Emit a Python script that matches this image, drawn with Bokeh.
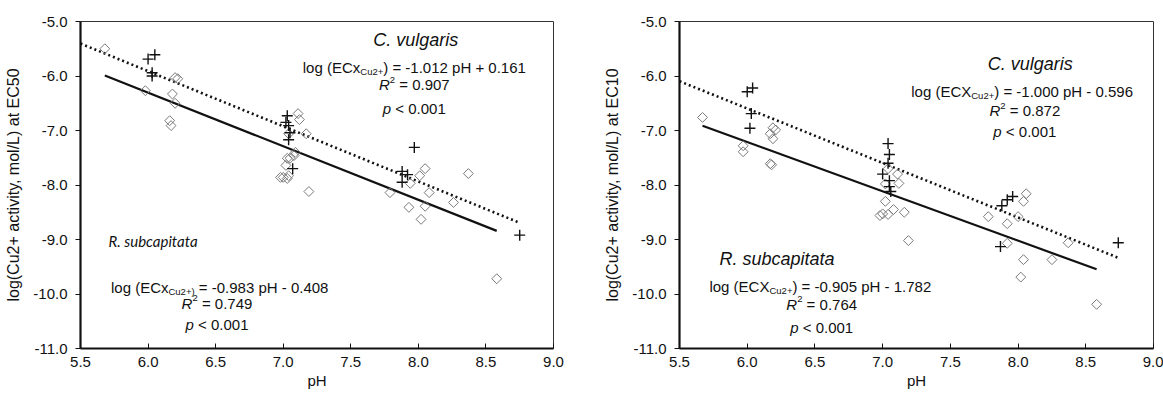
import numpy as np
from bokeh.plotting import figure
from bokeh.layouts import row
from bokeh.models import Label, Range1d, PrintfTickFormatter
from bokeh.embed import file_html
from bokeh.resources import INLINE

# ---------------- data ----------------
X_TICKS = [5.5, 6.0, 6.5, 7.0, 7.5, 8.0, 8.5, 9.0]
Y_TICKS = [-11.0, -10.0, -9.0, -8.0, -7.0, -6.0, -5.0]

# EC50 panel
cv50_ph = [6.00, 6.05, 6.03, 6.03, 7.03, 7.02, 7.04, 7.05, 7.04, 7.07, 7.97, 7.88, 7.92, 7.88, 8.75]
cv50_val = [-5.69, -5.61, -5.94, -6.00, -6.73, -6.85, -6.91, -7.04, -7.17, -7.70, -7.31, -7.75, -7.81, -7.95, -8.92]
rs50_ph = [5.68, 5.98, 6.20, 6.22, 6.18, 6.20, 6.16, 6.17, 7.11, 7.12, 7.17, 7.04, 7.09, 7.08, 7.03, 7.05,
           7.02, 6.98, 7.00, 7.04, 7.03, 7.19, 7.79, 7.93, 8.02, 8.05, 8.08, 7.94, 8.01, 8.05, 8.26, 8.37, 8.58]
rs50_val = [-5.50, -6.27, -6.03, -6.05, -6.33, -6.50, -6.82, -6.91, -6.69, -6.80, -7.06, -7.06, -7.40, -7.46,
            -7.51, -7.51, -7.64, -7.86, -7.86, -7.83, -7.88, -8.12, -8.14, -8.41, -8.63, -8.39, -8.14, -7.97,
            -7.83, -7.70, -8.32, -7.79, -9.72]

# EC10 panel
cv10_ph = [6.00, 6.04, 6.03, 6.02, 7.04, 7.05, 7.04, 7.00, 7.05, 7.05, 7.06, 7.87, 7.88, 7.92, 7.96, 8.74]
cv10_val = [-6.29, -6.22, -6.69, -6.96, -7.24, -7.44, -7.60, -7.80, -7.92, -8.03, -8.12, -9.13, -8.38, -8.27, -8.21, -9.06]
rs10_ph = [5.67, 6.19, 6.21, 6.17, 6.19, 5.97, 5.97, 6.17, 6.18, 7.04, 7.11, 7.12, 7.02, 7.02, 7.08, 7.16,
           6.98, 7.00, 7.04, 7.19, 7.78, 7.92, 7.92, 8.00, 8.04, 8.02, 8.04, 8.06, 8.25, 8.37, 8.58]
rs10_val = [-6.76, -6.95, -6.99, -7.06, -7.15, -7.28, -7.39, -7.61, -7.63, -7.70, -7.80, -7.97, -7.98, -8.30,
            -8.45, -8.50, -8.56, -8.53, -8.54, -9.02, -8.58, -8.71, -9.07, -8.58, -9.37, -9.69, -8.30, -8.16,
            -9.37, -9.06, -10.19]

# regression fits (slope, intercept)
cv50_fit = (-1.012, 0.161)
rs50_fit = (-0.983, -0.408)
cv10_fit = (-1.000, -0.596)
rs10_fit = (-0.905, -1.782)

cv50_text = ["C. vulgaris", "log (ECx", "Cu2+", ") = -1.012 pH + 0.161", "0.907", "< 0.001"]
rs50_text = ["R. subcapitata", "log (ECx", "Cu2+)", " = -0.983 pH - 0.408", "0.749", "< 0.001"]
cv10_text = ["C. vulgaris", "log (ECX", "Cu2+", ") = -1.000 pH - 0.596", "0.872", "< 0.001"]
rs10_text = ["R. subcapitata", "log (ECX", "Cu2+", ") = -0.905 pH - 1.782", "0.764", "< 0.001"]

FONT = "Liberation Sans"
TXT = "#111111"

W = {' ': 278, '(': 333, ')': 333, '+': 584, '-': 333, '.': 278, '/': 278, '<': 584, '=': 584,
     'C': 722, 'E': 667, 'H': 722, 'R': 722, 'X': 667, 'a': 556, 'g': 556, 'l': 222, 'o': 556,
     'p': 556, 'u': 556, 'x': 500}


def tw(s, size):
    return sum(W.get(c, 556) for c in s) * size / 1000.0


def rich(p, xc, yc, parts, size=15, small=9.5):
    # parts: list of (text, kind); kind in n, i, sub, sup
    widths = []
    for t, k in parts:
        widths.append(tw(t, small if k in ("sub", "sup") else size))
    total = sum(widths)
    off = -total / 2.0
    for (t, k), w in zip(parts, widths):
        fs = small if k in ("sub", "sup") else size
        yo = -4 if k == "sub" else (5 if k == "sup" else 0)
        lead = len(t) - len(t.lstrip(" "))
        shift = tw(" " * lead, fs)
        p.add_layout(Label(x=xc, y=yc, x_offset=off + shift, y_offset=yo, text=t.strip(" "), text_font=FONT,
                           text_font_size=f"{fs}px", text_color=TXT,
                           text_font_style="italic" if k == "i" else "normal",
                           text_align="left", text_baseline="middle"))
        off += w


def make_fig(width, left, right, ylabel):
    p = figure(width=width, height=395, output_backend="svg", toolbar_location=None,
               x_range=Range1d(X_TICKS[0], X_TICKS[-1]), y_range=Range1d(Y_TICKS[0], Y_TICKS[-1]),
               min_border_left=left, min_border_right=right, min_border_top=21, min_border_bottom=47)
    p.xgrid.visible = False
    p.ygrid.visible = False
    p.outline_line_color = "#333333"
    p.outline_line_width = 1
    p.xaxis.ticker = X_TICKS
    p.yaxis.ticker = Y_TICKS
    p.xaxis.formatter = PrintfTickFormatter(format="%.1f")
    p.yaxis.formatter = PrintfTickFormatter(format="%.1f")
    for ax in (p.xaxis, p.yaxis):
        ax.axis_line_width = 2.2
        ax.axis_line_color = "#111111"
        ax.major_tick_line_color = "#111111"
        ax.major_tick_line_width = 1
        ax.minor_tick_line_color = None
        ax.major_label_text_font = FONT
        ax.major_label_text_font_size = "15px"
        ax.major_label_text_color = TXT
        ax.axis_label_text_font = FONT
        ax.axis_label_text_font_style = "normal"
        ax.axis_label_text_color = TXT
    p.xaxis.major_tick_in = 5
    p.xaxis.major_tick_out = 0
    p.yaxis.major_tick_in = 0
    p.yaxis.major_tick_out = 5
    p.xaxis.major_label_standoff = 8
    p.yaxis.major_label_standoff = 8
    p.xaxis.axis_label = "pH"
    p.xaxis.axis_label_text_font_size = "15px"
    p.xaxis.axis_label_standoff = 2
    p.yaxis.axis_label = ylabel
    p.yaxis.axis_label_text_font_size = "16px"
    p.yaxis.axis_label_standoff = 8
    return p


def draw(p, cv_ph, cv_val, rs_ph, rs_val, cv_fit, rs_fit):
    cx = np.array([X_TICKS[0], max(cv_ph)])
    p.line(cx, cv_fit[0] * cx + cv_fit[1], line_color="#111111", line_width=2.6,
           line_dash="2 3")
    rx = np.array([min(rs_ph), max(rs_ph)])
    p.line(rx, rs_fit[0] * rx + rs_fit[1], line_color="#111111", line_width=2.2)
    p.scatter(rs_ph, rs_val, marker="square", size=7, angle=np.pi / 4, fill_color=None,
              line_color="#7a7a7a", line_width=1)
    p.scatter(cv_ph, cv_val, marker="cross", size=11, line_color="#111111", line_width=1.4)


# ---------------- left: EC50 ----------------
p1 = make_fig(580, 80, 27, "log(Cu2+ activity, mol/L) at EC50")
draw(p1, cv50_ph, cv50_val, rs50_ph, rs50_val, cv50_fit, rs50_fit)
p1.add_layout(Label(x=7.98, y=-5.34, text=cv50_text[0], text_font=FONT, text_font_size="18px",
                    text_font_style="italic", text_color=TXT, text_align="center", text_baseline="middle"))
rich(p1, 7.97, -5.85, [(cv50_text[1], "n"), (cv50_text[2], "sub"), (cv50_text[3], "n")])
rich(p1, 7.97, -6.16, [("R", "i"), ("2", "sup"), (" = " + cv50_text[4], "n")])
rich(p1, 7.97, -6.60, [("p", "i"), (" " + cv50_text[5], "n")])

p1.add_layout(Label(x=5.707, y=-9.02, text=rs50_text[0], text_font="Lato", text_font_size="15px",
                    text_font_style="italic", text_color=TXT, text_align="left", text_baseline="middle"))
rich(p1, 6.53, -9.88, [(rs50_text[1], "n"), (rs50_text[2], "sub"), (rs50_text[3], "n")])
rich(p1, 6.51, -10.17, [("R", "i"), ("2", "sup"), (" = " + rs50_text[4], "n")])
rich(p1, 6.51, -10.56, [("p", "i"), (" " + rs50_text[5], "n")])

# ---------------- right: EC10 ----------------
p2 = make_fig(583, 99, 10, "log(Cu2+ activity, mol/L) at EC10")
draw(p2, cv10_ph, cv10_val, rs10_ph, rs10_val, cv10_fit, rs10_fit)
p2.add_layout(Label(x=8.09, y=-5.78, text=cv10_text[0], text_font=FONT, text_font_size="18px",
                    text_font_style="italic", text_color=TXT, text_align="center", text_baseline="middle"))
rich(p2, 8.03, -6.29, [(cv10_text[1], "n"), (cv10_text[2], "sub"), (cv10_text[3], "n")])
rich(p2, 8.05, -6.64, [("R", "i"), ("2", "sup"), (" = " + cv10_text[4], "n")])
rich(p2, 8.05, -7.02, [("p", "i"), (" " + cv10_text[5], "n")])

p2.add_layout(Label(x=6.22, y=-9.35, text=rs10_text[0], text_font=FONT, text_font_size="18px",
                    text_font_style="italic", text_color=TXT, text_align="center", text_baseline="middle"))
rich(p2, 6.54, -9.86, [(rs10_text[1], "n"), (rs10_text[2], "sub"), (rs10_text[3], "n")])
rich(p2, 6.55, -10.19, [("R", "i"), ("2", "sup"), (" = " + rs10_text[4], "n")])
rich(p2, 6.55, -10.61, [("p", "i"), (" " + rs10_text[5], "n")])

layout = row(p1, p2)
open("out.html", "w").write(file_html(layout, INLINE))
